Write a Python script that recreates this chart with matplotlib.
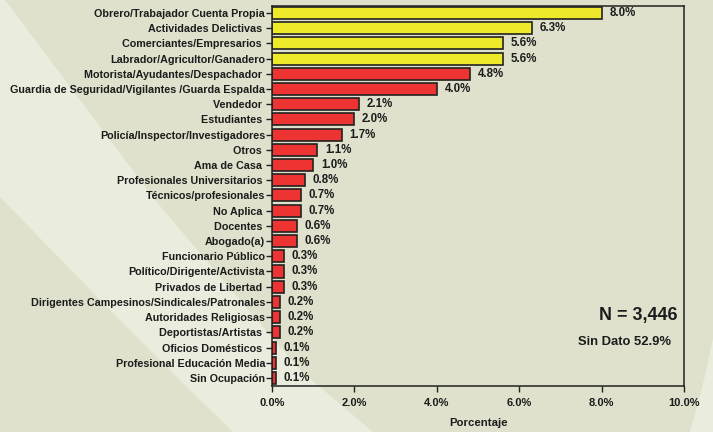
import matplotlib
matplotlib.use("Agg")
import matplotlib.pyplot as plt
from matplotlib.patches import Polygon

plt.rcParams["font.family"] = ["Liberation Sans", "DejaVu Sans"]
plt.rcParams["font.weight"] = "bold"

ocupaciones = [
    "Obrero/Trabajador Cuenta Propia",
    "Actividades Delictivas ",
    "Comerciantes/Empresarios ",
    "Labrador/Agricultor/Ganadero",
    "Motorista/Ayudantes/Despachador ",
    "Guardia de Seguridad/Vigilantes /Guarda Espalda",
    "Vendedor ",
    "Estudiantes ",
    "Policía/Inspector/Investigadores",
    "Otros ",
    "Ama de Casa ",
    "Profesionales Universitarios ",
    "Técnicos/profesionales",
    "No Aplica ",
    "Docentes ",
    "Abogado(a)",
    "Funcionario Público",
    "Político/Dirigente/Activista",
    "Privados de Libertad ",
    "Dirigentes Campesinos/Sindicales/Patronales",
    "Autoridades Religiosas",
    "Deportistas/Artistas ",
    "Oficios Domésticos ",
    "Profesional Educación Media",
    "Sin Ocupación",
]
porcentaje = [8.0, 6.3, 5.6, 5.6, 4.8, 4.0, 2.1, 2.0, 1.7, 1.1, 1.0, 0.8, 0.7,
              0.7, 0.6, 0.6, 0.3, 0.3, 0.3, 0.2, 0.2, 0.2, 0.1, 0.1, 0.1]
n_destacados = 4  # first four categories drawn in yellow

x_ticks = [0, 2, 4, 6, 8, 10]
x_ticklabels = ["0.0%", "2.0%", "4.0%", "6.0%", "8.0%", "10.0%"]

W, H = 713, 432
BG_DARK = "#dfe1cc"
BG_LIGHT = "#eaeddd"
TXT = "#1c1c1c"

fig = plt.figure(figsize=(W / 100, H / 100), dpi=100)
fig.patch.set_facecolor(BG_DARK)


def px(pts):
    return [(x / W, 1 - y / H) for x, y in pts]


# diagonal light swoosh behind the chart
band = [(0, 0), (5, 0), (80, 100), (155, 200), (240, 300), (300, 370),
        (373, 432), (233, 432), (200, 400), (100, 300), (0, 197)]
corner = [(713, 338), (704, 380), (690, 432), (713, 432)]
for shape in (band, corner):
    fig.patches.append(Polygon(px(shape), closed=True, transform=fig.transFigure,
                               facecolor=BG_LIGHT, edgecolor="none", zorder=-5))

ax = fig.add_axes([272 / W, 1 - 386 / H, 412 / W, 380 / H])
ax.set_zorder(2)
ax.patch.set_alpha(0)

colores = ["#efe92c" if i < n_destacados else "#ee3432"
           for i in range(len(porcentaje))]
ypos = list(range(len(porcentaje)))
bars = ax.barh(ypos, porcentaje, height=0.79, color=colores,
               edgecolor="#222222", linewidth=1.2)

for r, v in zip(bars, porcentaje):
    ax.annotate(f"{v:.1f}%", xy=(r.get_width(), r.get_y() + r.get_height() / 2),
                xytext=(5.5, 0), textcoords="offset points", ha="left",
                va="center", fontsize=8.3, fontweight="bold", color=TXT)

ax.set_xlim(0, 10)
ax.set_ylim(24.53, -0.46)
ax.set_yticks(ypos)
ax.set_yticklabels(ocupaciones, fontsize=7.75, fontweight="bold", color=TXT)
ax.set_xticks(x_ticks)
ax.set_xticklabels(x_ticklabels, fontsize=8.0, fontweight="bold", color=TXT)
ax.tick_params(axis="y", direction="out", length=4, width=1, pad=1,
               color="#222222")
ax.tick_params(axis="x", direction="out", length=4, width=1, pad=5,
               color="#222222")
for s in ax.spines.values():
    s.set_color("#222222")
    s.set_linewidth(1.1)

ax.set_xlabel("Porcentaje", fontsize=8.2, fontweight="bold", color=TXT,
              labelpad=7)

ax.text(0.985, 0.185, "N = 3,446", transform=ax.transAxes, ha="right",
        va="center", fontsize=13, fontweight="bold", color=TXT)
ax.text(0.968, 0.115, "Sin Dato 52.9%", transform=ax.transAxes, ha="right",
        va="center", fontsize=9.4, fontweight="bold", color=TXT)

plt.savefig("out.png", dpi=100, facecolor=fig.get_facecolor())
plt.close()
